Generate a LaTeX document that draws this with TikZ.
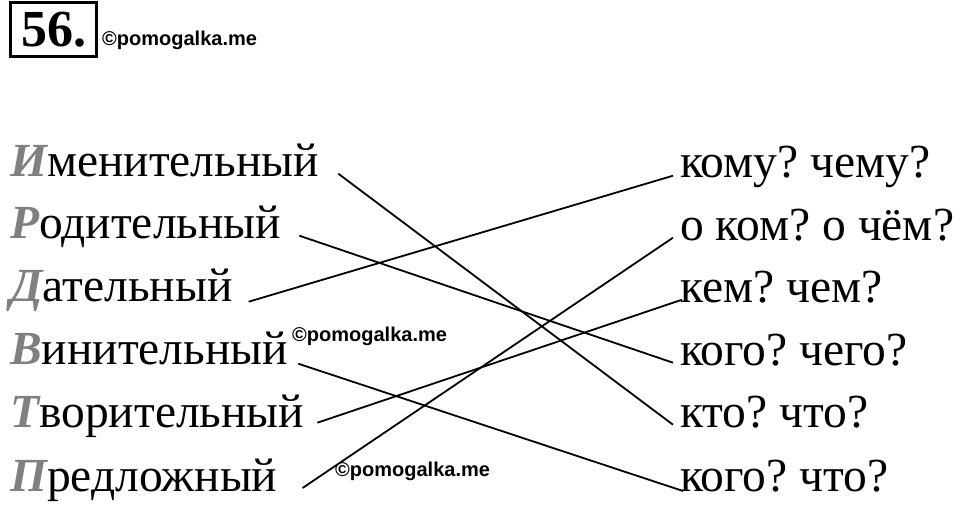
\documentclass[tikz,border=0pt]{standalone}
\usepackage{fontspec}
\setmainfont{Liberation Serif}
\newfontfamily\wmfont{Liberation Sans}
\newfontfamily\initfont{Liberation Serif Bold Italic}
\newcommand{\initial}[1]{{\color{gray}\initfont #1}}
\frenchspacing
\begin{document}
\begin{tikzpicture}[x=1pt,y=-1pt,
  casename/.style={anchor=base west,inner sep=0pt,font=\fontsize{47.5}{50}\selectfont},
  question/.style={anchor=base west,inner sep=0pt,font=\fontsize{47.5}{50}\selectfont},
  link/.style={line width=1.8pt},
  wmark/.style={anchor=base west,inner sep=0pt,font=\wmfont\bfseries\fontsize{20}{22}\selectfont}]
\useasboundingbox (0,0) rectangle (960,505);

% header
\node[draw,line width=3pt,minimum width=86pt,minimum height=54pt,inner sep=0pt,
  font=\bfseries\fontsize{52}{54}\selectfont] (num) at (53.5,29.5) {56.};
\node[wmark] (wm1) at (102,46) {©pomogalka.me};

% cases
\node[casename] (im)   at (10,176) {\initial{И}менительный};
\node[casename] (rod)  at (10,238) {\initial{Р}одительный};
\node[casename] (dat)  at (10,301) {\initial{Д}ательный};
\node[casename] (vin)  at (10,364) {\initial{В}инительный};
\node[casename] (tvor) at (10,427) {\initial{Т}ворительный};
\node[casename] (pred) at (10,491) {\initial{П}редложный};

% questions
\node[question] (komu) at (680,178) {кому? чему?};
\node[question] (okom) at (680,240) {о ком? о чём?};
\node[question] (kem)  at (680,302) {кем? чем?};
\node[question] (kogochego) at (680,365) {кого? чего?};
\node[question] (kto)  at (680,427) {кто? что?};
\node[question] (kogochto)  at (680,491) {кого? что?};

\node[wmark] (wm2) at (292,341) {©pomogalka.me};
\node[wmark] (wm3) at (335,476) {©pomogalka.me};

% connectors
\draw[link] ([xshift=19pt]im.mid east) -- ([xshift=-7pt]kto.mid west);
\draw[link] ([xshift=18pt]rod.mid east) -- ([xshift=-7pt]kogochego.mid west);
\draw[link] ([xshift=16pt,yshift=-3pt]dat.mid east) -- ([xshift=-7pt]komu.mid west);
\draw[link] ([xshift=10pt,yshift=-2pt]vin.mid east) -- ([xshift=3pt]kogochto.base west);
\draw[link] ([xshift=13pt,yshift=2pt]tvor.mid east) -- ([xshift=2pt]kem.mid west);
\draw[link] ([xshift=25pt,yshift=3pt]pred.base east) -- ([xshift=-7pt]okom.mid west);
\end{tikzpicture}
\end{document}
